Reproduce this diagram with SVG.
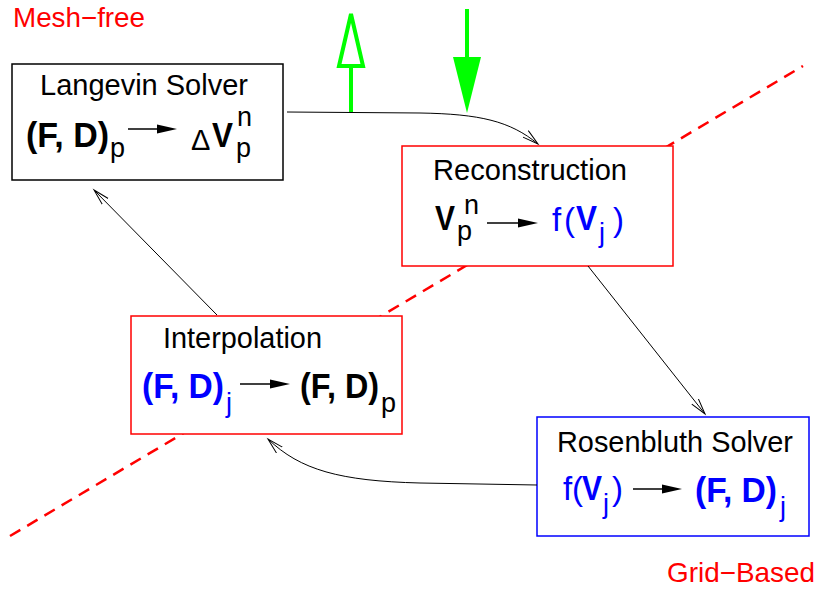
<svg xmlns="http://www.w3.org/2000/svg" width="820" height="592" viewBox="0 0 820 592">
<defs>
<style>
text{font-family:"Liberation Sans",Arial,Helvetica,sans-serif;}
.t{font-size:29px;fill:#000;}
.b{font-size:35px;font-weight:bold;}
.r{font-size:33px;}
.s{font-size:27px;}
.blue{fill:#0000ff;}
.red{fill:#ff0000;font-size:28px;}
.box{fill:#fff;stroke-width:1.5;}
.conn{fill:none;stroke:#000;stroke-width:1;}
.ar{stroke:#000;stroke-width:1.5;}
</style>
<marker id="open" markerUnits="userSpaceOnUse" markerWidth="20" markerHeight="12" refX="16" refY="5" orient="auto" viewBox="0 0 20 12">
<path d="M0,0.8 L16,5 L0,9.2" fill="none" stroke="#000" stroke-width="1"/>
</marker>
</defs>
<rect width="820" height="592" fill="#fff"/>
<text class="red" x="13" y="27" textLength="132" lengthAdjust="spacingAndGlyphs">Mesh−free</text>
<text class="red" x="667" y="582" textLength="148" lengthAdjust="spacingAndGlyphs">Grid−Based</text>
<line x1="10" y1="536" x2="803" y2="66" stroke="#ff0000" stroke-width="2.5" stroke-dasharray="12 8"/>

<g id="langevin">
<rect class="box" x="12" y="64" width="271" height="116" stroke="#000"/>
<text class="t" x="40" y="95" textLength="208" lengthAdjust="spacingAndGlyphs">Langevin Solver</text>
<text class="b" x="26" y="147" textLength="83" lengthAdjust="spacingAndGlyphs">(F, D)</text>
<text class="s" x="110" y="157">p</text>
<line class="ar" x1="128" y1="129" x2="160" y2="129"/>
<polygon points="177,129 157,124.5 157,133.5" fill="#000"/>
<text x="191" y="150" font-size="29">Δ</text>
<text class="b" x="212" y="147" textLength="21" lengthAdjust="spacingAndGlyphs">V</text>
<text class="s" x="237" y="126">n</text>
<text class="s" x="236" y="157">p</text>
</g>

<g id="reconstruction">
<rect class="box" x="402" y="146" width="271" height="120" stroke="#ff0000"/>
<text class="t" x="433" y="180" textLength="194" lengthAdjust="spacingAndGlyphs">Reconstruction</text>
<text class="b" x="435" y="230" textLength="20" lengthAdjust="spacingAndGlyphs">V</text>
<text class="s" x="464" y="214">n</text>
<text class="s" x="457" y="240">p</text>
<line class="ar" x1="487" y1="223" x2="520" y2="223"/>
<polygon points="538,223 518,218.5 518,227.5" fill="#000"/>
<text class="r blue" x="552" y="231">f</text>
<text class="r blue" x="564" y="231">(</text>
<text class="b blue" x="576" y="230" textLength="21" lengthAdjust="spacingAndGlyphs">V</text>
<text class="s blue" x="599" y="242">j</text>
<text class="r blue" x="613" y="231">)</text>
</g>

<g id="interpolation">
<rect class="box" x="131" y="316" width="271" height="118" stroke="#ff0000"/>
<text class="t" x="163" y="348" textLength="159" lengthAdjust="spacingAndGlyphs">Interpolation</text>
<text class="b blue" x="142" y="398" textLength="82" lengthAdjust="spacingAndGlyphs">(F, D)</text>
<text class="s blue" x="226" y="412">j</text>
<line class="ar" x1="240" y1="384" x2="272" y2="384"/>
<polygon points="290,384 270,379.5 270,388.5" fill="#000"/>
<text class="b" x="300" y="398" textLength="79" lengthAdjust="spacingAndGlyphs">(F, D)</text>
<text class="s" x="381" y="412">p</text>
</g>

<g id="rosenbluth">
<rect class="box" x="537" y="417" width="272" height="119" stroke="#0000ff"/>
<text class="t" x="557" y="452" textLength="236" lengthAdjust="spacingAndGlyphs">Rosenbluth Solver</text>
<text class="r blue" x="563" y="500">f</text>
<text class="r blue" x="572" y="500">(</text>
<text class="b blue" x="582" y="500" textLength="20" lengthAdjust="spacingAndGlyphs">V</text>
<text class="s blue" x="603" y="513">j</text>
<text class="r blue" x="612" y="500">)</text>
<line class="ar" x1="633" y1="489" x2="664" y2="489"/>
<polygon points="682,489 662,484.5 662,493.5" fill="#000"/>
<text class="b blue" x="695" y="502" textLength="82" lengthAdjust="spacingAndGlyphs">(F, D)</text>
<text class="s blue" x="780" y="516">j</text>
</g>

<g id="connectors">
<path class="conn" d="M287,112 L420,113 C480,114 510,121 538,144" marker-end="url(#open)"/>
<path class="conn" d="M588,266 L705,414" marker-end="url(#open)"/>
<path class="conn" d="M537,485 L420,483 C340,481 300,470 268,439" marker-end="url(#open)"/>
<path class="conn" d="M217,315 L94,190" marker-end="url(#open)"/>
</g>

<g id="io-arrows">
<line x1="351" y1="112" x2="351" y2="66" stroke="#00ff00" stroke-width="4"/>
<polygon points="351,14 339,66 363,66" fill="none" stroke="#00ff00" stroke-width="4" stroke-linejoin="miter"/>
<line x1="467" y1="9" x2="467" y2="60" stroke="#00ff00" stroke-width="4"/>
<polygon points="453,57 481,57 467,113" fill="#00ff00"/>
</g>
</svg>
